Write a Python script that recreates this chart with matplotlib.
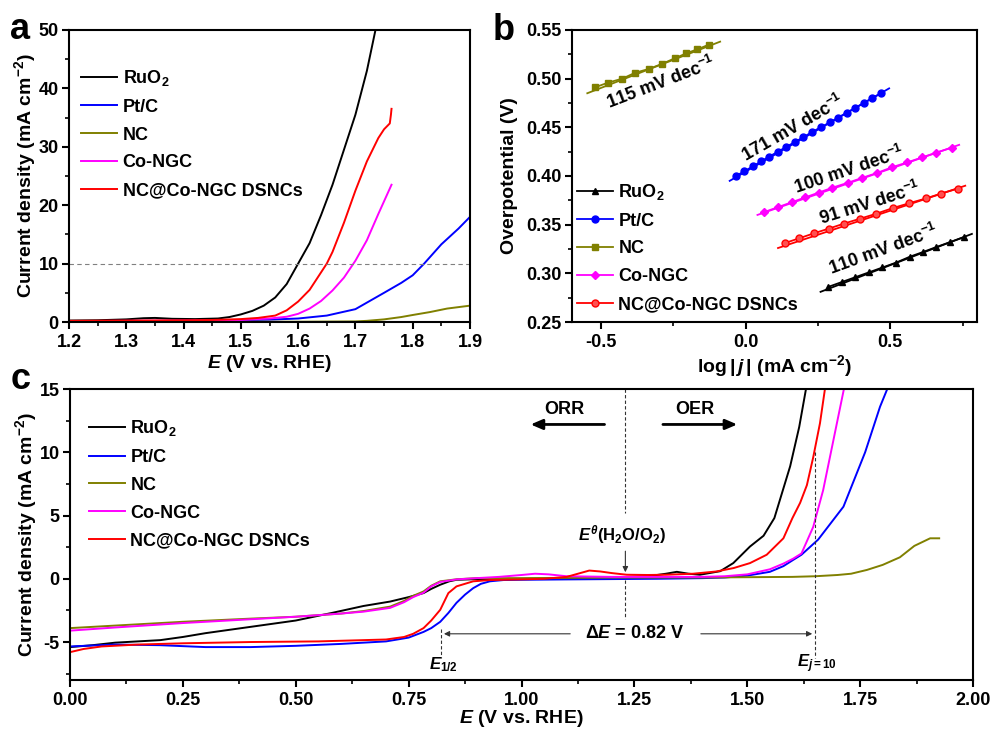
import matplotlib
matplotlib.use('Agg')
import matplotlib.pyplot as plt
from matplotlib.ticker import MultipleLocator

plt.rcParams.update({
    'font.family': ['Liberation Sans', 'DejaVu Sans'],
    'font.weight': 'bold',
    'axes.labelweight': 'bold',
    'mathtext.fontset': 'custom',
    'mathtext.rm': 'Liberation Sans:bold',
    'mathtext.it': 'Liberation Sans:italic:bold',
    'mathtext.bf': 'Liberation Sans:bold',
    'mathtext.sf': 'Liberation Sans:bold',
    'axes.unicode_minus': False,
    'axes.linewidth': 1.5,
    'xtick.major.width': 1.5, 'ytick.major.width': 1.5,
    'xtick.minor.width': 1.2, 'ytick.minor.width': 1.2,
    'xtick.major.size': 5, 'ytick.major.size': 5,
    'xtick.minor.size': 3, 'ytick.minor.size': 3,
    'xtick.labelsize': 13, 'ytick.labelsize': 13,
    'axes.labelsize': 14,
})

# ---------------- data: panel a (OER LSV) ----------------
labels = ['RuO$_2$', 'Pt/C', 'NC', 'Co-NGC', 'NC@Co-NGC DSNCs']
colors = ['black', '#0000FF', '#808000', '#FF00FF', '#FF0000']

a_ru_E = [1.20, 1.25, 1.30, 1.33, 1.35, 1.38, 1.42, 1.46, 1.48, 1.50, 1.52, 1.54, 1.56, 1.58, 1.60,
          1.62, 1.64, 1.66, 1.68, 1.70, 1.72, 1.735]
a_ru_j = [0.25, 0.3, 0.45, 0.65, 0.7, 0.55, 0.5, 0.6, 0.85, 1.3, 1.9, 2.8, 4.2, 6.5, 10,
          13.5, 18.3, 23.5, 29.5, 35.5, 43, 50]
a_pt_E = [1.2, 1.3, 1.4, 1.5, 1.55, 1.6, 1.65, 1.7, 1.75, 1.78, 1.8, 1.82, 1.85, 1.88, 1.9]
a_pt_j = [0.1, 0.15, 0.2, 0.3, 0.4, 0.6, 1.1, 2.2, 5.0, 6.7, 8.0, 10, 13.3, 16, 18]
a_nc_E = [1.2, 1.4, 1.6, 1.7, 1.72, 1.75, 1.78, 1.8, 1.83, 1.86, 1.9]
a_nc_j = [0.05, 0.05, 0.05, 0.1, 0.2, 0.45, 0.85, 1.2, 1.7, 2.3, 2.8]
a_co_E = [1.2, 1.3, 1.4, 1.5, 1.55, 1.58, 1.60, 1.62, 1.64, 1.66, 1.68, 1.70, 1.72, 1.74, 1.763]
a_co_j = [0.15, 0.2, 0.25, 0.35, 0.6, 0.9, 1.4, 2.3, 3.6, 5.4, 7.6, 10.5, 14, 18.5, 23.5]
a_ds_E = [1.20, 1.30, 1.40, 1.45, 1.50, 1.53, 1.56, 1.58, 1.60, 1.62, 1.64, 1.65, 1.66, 1.68, 1.70,
          1.72, 1.74, 1.75, 1.76, 1.762, 1.763]
a_ds_j = [0.2, 0.25, 0.3, 0.35, 0.5, 0.7, 1.1, 2.0, 3.5, 5.5, 8.5, 10, 12, 17, 22.5,
          27.5, 31.5, 33, 34, 35.5, 36.5]

# ---------------- data: panel b (Tafel) ----------------
b_ru_x = [0.285, 0.332, 0.379, 0.426, 0.473, 0.520, 0.567, 0.614, 0.659, 0.706, 0.753]
b_ru_y = [0.286, 0.291, 0.296, 0.301, 0.306, 0.311, 0.317, 0.322, 0.327, 0.332, 0.337]
b_pt_x = [-0.033, -0.004, 0.026, 0.053, 0.082, 0.112, 0.141, 0.171, 0.200, 0.229, 0.259, 0.291,
          0.320, 0.349, 0.379, 0.408, 0.438, 0.468]
b_pt_y = [0.400, 0.405, 0.410, 0.415, 0.420, 0.425, 0.430, 0.435, 0.440, 0.445, 0.450, 0.455,
          0.460, 0.465, 0.470, 0.475, 0.480, 0.485]
b_nc_x = [-0.521, -0.474, -0.426, -0.382, -0.334, -0.290, -0.244, -0.205, -0.168, -0.126]
b_nc_y = [0.491, 0.496, 0.500, 0.506, 0.510, 0.515, 0.521, 0.526, 0.530, 0.535]
b_co_x = [0.065, 0.112, 0.159, 0.206, 0.253, 0.300, 0.353, 0.402, 0.453, 0.506, 0.559, 0.609,
          0.659, 0.712]
b_co_y = [0.363, 0.368, 0.373, 0.378, 0.383, 0.388, 0.393, 0.398, 0.403, 0.409, 0.414, 0.419,
          0.424, 0.429]
b_ds_x = [0.135, 0.185, 0.235, 0.288, 0.339, 0.394, 0.449, 0.508, 0.565, 0.624, 0.676, 0.733]
b_ds_y = [0.331, 0.336, 0.341, 0.346, 0.351, 0.356, 0.361, 0.367, 0.372, 0.377, 0.382, 0.387]
# fitted line end points
b_fit_ru = ([0.259, 0.782], [0.281, 0.3405])
b_fit_pt = ([-0.055, 0.496], [0.395, 0.490])
b_fit_nc = ([-0.547, -0.088], [0.485, 0.538])
b_fit_co = ([0.041, 0.738], [0.360, 0.432])
b_fit_ds = ([0.112, 0.759], [0.326, 0.390])
b_slopes = ['110', '171', '115', '100', '91']
b_text_pos = [(0.476, 0.3238, 20), (0.165, 0.4492, 30), (-0.294, 0.4953, 21),
              (0.359, 0.4065, 18.5), (0.429, 0.3717, 17.5)]

# ---------------- data: panel c (ORR + OER) ----------------
c_ru_E = [0.00, 0.05, 0.10, 0.20, 0.25, 0.30, 0.40, 0.50, 0.58, 0.65, 0.709, 0.75, 0.783, 0.80,
          0.82, 0.84, 0.856, 0.90, 1.00, 1.10, 1.20, 1.28, 1.32, 1.344, 1.37, 1.395, 1.44, 1.469,
          1.506, 1.536, 1.56, 1.595, 1.615, 1.63]
c_ru_j = [-5.4, -5.25, -5.05, -4.85, -4.6, -4.3, -3.8, -3.3, -2.7, -2.15, -1.8, -1.45, -1.13, -0.8,
          -0.47, -0.2, -0.08, -0.03, 0.0, 0.05, 0.1, 0.2, 0.4, 0.55, 0.4, 0.32, 0.6, 1.24,
          2.55, 3.4, 4.8, 8.9, 12, 15]
c_pt_E = [0.00, 0.10, 0.20, 0.30, 0.40, 0.50, 0.60, 0.70, 0.75, 0.783, 0.80, 0.82, 0.838, 0.856,
          0.875, 0.893, 0.91, 0.93, 0.96, 1.00, 1.10, 1.30, 1.40, 1.45, 1.50, 1.55, 1.58, 1.602,
          1.62, 1.657, 1.713, 1.761, 1.794, 1.81]
c_pt_j = [-5.35, -5.2, -5.25, -5.4, -5.4, -5.3, -5.15, -4.95, -4.65, -4.2, -3.9, -3.4, -2.7, -1.9,
          -1.25, -0.74, -0.4, -0.2, -0.1, -0.08, -0.05, 0.0, 0.05, 0.1, 0.25, 0.55, 1.0, 1.5,
          1.9, 3.1, 5.7, 10, 13.6, 15]
c_nc_E = [0.00, 0.10, 0.25, 0.40, 0.50, 0.60, 0.65, 0.709, 0.74, 0.76, 0.783, 0.80, 0.82, 0.856,
          0.90, 1.00, 1.20, 1.40, 1.60, 1.65, 1.70, 1.73, 1.765, 1.80, 1.838, 1.87, 1.905, 1.925]
c_nc_j = [-3.9, -3.7, -3.4, -3.15, -3.0, -2.75, -2.55, -2.2, -1.75, -1.35, -1.0, -0.55, -0.2, -0.04,
          0.05, 0.05, 0.1, 0.1, 0.15, 0.2, 0.3, 0.4, 0.7, 1.1, 1.7, 2.6, 3.2, 3.2]
c_co_E = [0.00, 0.10, 0.25, 0.40, 0.50, 0.60, 0.65, 0.709, 0.74, 0.76, 0.783, 0.80, 0.82, 0.856,
          0.90, 0.95, 1.00, 1.03, 1.06, 1.10, 1.20, 1.30, 1.40, 1.45, 1.50, 1.55, 1.58, 1.602,
          1.62, 1.646, 1.668, 1.691, 1.714]
c_co_j = [-4.1, -3.85, -3.5, -3.2, -3.0, -2.75, -2.6, -2.3, -1.85, -1.45, -1.1, -0.6, -0.25, -0.05,
          0.05, 0.15, 0.3, 0.4, 0.35, 0.2, 0.15, 0.15, 0.15, 0.2, 0.35, 0.75, 1.2, 1.6,
          2.0, 4.1, 7.0, 11, 15]
c_ds_E = [0.00, 0.03, 0.07, 0.15, 0.25, 0.40, 0.55, 0.65, 0.70, 0.74, 0.76, 0.783, 0.80, 0.82,
          0.838, 0.856, 0.893, 0.93, 1.00, 1.05, 1.10, 1.13, 1.15, 1.174, 1.20, 1.233, 1.28, 1.32,
          1.38, 1.432, 1.47, 1.506, 1.543, 1.58, 1.60, 1.617, 1.632, 1.646, 1.661, 1.672]
c_ds_j = [-5.8, -5.55, -5.35, -5.2, -5.1, -5.0, -4.95, -4.85, -4.8, -4.6, -4.35, -3.9, -3.3, -2.45,
          -1.13, -0.6, -0.2, -0.1, -0.05, 0.0, 0.15, 0.45, 0.65, 0.58, 0.45, 0.32, 0.3, 0.32,
          0.4, 0.58, 0.85, 1.24, 1.9, 3.2, 4.8, 6.0, 7.4, 9.6, 12.3, 15]

E_half = 0.822
E_j10 = 1.65
E_theta = 1.23

# ---------------- figure ----------------
fig = plt.figure(figsize=(9.93, 7.31), dpi=100)
axa = fig.add_axes([0.0695, 0.5595, 0.4038, 0.3995])
axb = fig.add_axes([0.576, 0.5595, 0.408, 0.3995])
axc = fig.add_axes([0.0705, 0.0698, 0.9094, 0.398])

for ax in (axa, axb, axc):
    ax.tick_params(which='both', direction='out', top=False, right=False)
    ax.tick_params(axis='y', which='major', pad=2.5)

leg_kw = dict(loc='upper left', frameon=False, fontsize=13, handlelength=2.0,
              handletextpad=0.3, labelspacing=0.6, borderaxespad=0, borderpad=0)

# panel a
a_sets = [(a_ru_E, a_ru_j), (a_pt_E, a_pt_j), (a_nc_E, a_nc_j), (a_co_E, a_co_j), (a_ds_E, a_ds_j)]
for (E, j), c, lab in zip(a_sets, colors, labels):
    axa.plot(E, j, color=c, lw=1.4, label=lab)
axa.axhline(10, color='gray', ls='--', lw=0.8, dashes=(4, 3))
axa.set_xlim(1.2, 1.9)
axa.set_ylim(0, 50)
axa.xaxis.set_minor_locator(MultipleLocator(0.05))
axa.yaxis.set_major_locator(MultipleLocator(10))
axa.yaxis.set_minor_locator(MultipleLocator(5))
axa.set_xticks([1.2, 1.3, 1.4, 1.5, 1.6, 1.7, 1.8, 1.9])
axa.set_xticklabels(['1.2', '1.3', '1.4', '1.5', '1.6', '1.7', '1.8', '1.9'])
axa.set_xlabel('$E$ (V vs. RHE)')
axa.set_ylabel('Current density (mA cm$^{-2}$)')
axa.xaxis.set_label_coords(0.5, -0.105)
axa.yaxis.set_label_coords(-0.078, 0.5)
axa.legend(bbox_to_anchor=(0.03, 0.87), **leg_kw)

# panel b
b_sets = [(b_ru_x, b_ru_y, '^', b_fit_ru), (b_pt_x, b_pt_y, 'o', b_fit_pt),
          (b_nc_x, b_nc_y, 's', b_fit_nc), (b_co_x, b_co_y, 'D', b_fit_co),
          (b_ds_x, b_ds_y, 'o', b_fit_ds)]
for (x, y, m, fit), c, lab in zip(b_sets, colors, labels):
    axb.plot(fit[0], fit[1], color=c, lw=1.3)
    ms = 5 if m != 'D' else 4.5
    fc = c if c != '#FF0000' else '#FF5050'
    axb.plot(x, y, color=c, lw=1.3, marker=m, ms=ms, mfc=fc, mec=c, label=lab)
for s, (tx, ty, rot) in zip(b_slopes, b_text_pos):
    axb.text(tx, ty, s + ' mV dec$^{-1}$', rotation=rot, ha='center', va='center',
             rotation_mode='anchor', fontsize=13)
axb.set_xlim(-0.6, 0.8)
axb.set_ylim(0.25, 0.55)
axb.xaxis.set_minor_locator(MultipleLocator(0.25))
axb.yaxis.set_minor_locator(MultipleLocator(0.025))
axb.set_xticks([-0.5, 0.0, 0.5])
axb.set_xticklabels(['-0.5', '0.0', '0.5'])
axb.set_yticks([0.25, 0.30, 0.35, 0.40, 0.45, 0.50, 0.55])
axb.set_yticklabels(['0.25', '0.30', '0.35', '0.40', '0.45', '0.50', '0.55'])
axb.set_xlabel(r'log$\,|\,j\,|$ (mA cm$^{-2}$)')
axb.set_ylabel('Overpotential (V)')
axb.xaxis.set_label_coords(0.5, -0.105)
axb.yaxis.set_label_coords(-0.132, 0.5)
axb.legend(bbox_to_anchor=(0.012, 0.48), **leg_kw)

# panel c
c_sets = [(c_ru_E, c_ru_j), (c_pt_E, c_pt_j), (c_nc_E, c_nc_j), (c_co_E, c_co_j), (c_ds_E, c_ds_j)]
for (E, j), c, lab in zip(c_sets, colors, labels):
    axc.plot(E, j, color=c, lw=1.4, label=lab)
axc.set_xlim(0, 2.0)
axc.set_ylim(-8, 15)
axc.xaxis.set_major_locator(MultipleLocator(0.25))
axc.xaxis.set_minor_locator(MultipleLocator(0.125))
axc.yaxis.set_minor_locator(MultipleLocator(2.5))
axc.set_yticks([-5, 0, 5, 10, 15])
axc.set_xlabel('$E$ (V vs. RHE)')
axc.set_ylabel('Current density (mA cm$^{-2}$)')
axc.xaxis.set_label_coords(0.5, -0.098)
axc.yaxis.set_label_coords(-0.034, 0.5)
axc.legend(bbox_to_anchor=(0.021, 0.9), **leg_kw)

dk = '#333333'
axc.plot([E_theta, E_theta], [15, 5.2], ls='--', color=dk, lw=0.8, dashes=(3, 2))
axc.plot([E_theta, E_theta], [-0.1, -3.2], ls='--', color=dk, lw=0.8, dashes=(3, 2))
axc.annotate('', xy=(E_theta, 0.3), xytext=(E_theta, 2.4),
             arrowprops=dict(arrowstyle='-|>', color=dk, lw=0.8, mutation_scale=8))
axc.text(E_theta - 0.008, 3.5, r'$E^{\theta}$(H$_2$O/O$_2$)', ha='center', va='center', fontsize=12)
axc.plot([E_half, E_half], [-4.0, -6.3], ls='--', color=dk, lw=0.8, dashes=(3, 2))
axc.plot([E_j10, E_j10], [10, -6.3], ls='--', color=dk, lw=0.8, dashes=(3, 2))
axc.annotate('', xy=(E_half, -4.35), xytext=(1.114, -4.35),
             arrowprops=dict(arrowstyle='-|>', color=dk, lw=0.8, mutation_scale=8))
axc.annotate('', xy=(E_j10, -4.35), xytext=(1.391, -4.35),
             arrowprops=dict(arrowstyle='-|>', color=dk, lw=0.8, mutation_scale=8))
axc.text(1.25, -4.35, r'$\Delta E$ = 0.82 V', ha='center', va='center', fontsize=13)
axc.text(E_half + 0.005, -6.75, r'$E_{1/2}$', ha='center', va='center', fontsize=12)
axc.text(E_j10 + 0.005, -6.75, r'$E_{j=10}$', ha='center', va='center', fontsize=12)
axc.text(1.096, 13.4, 'ORR', ha='center', va='center', fontsize=13)
axc.text(1.384, 13.4, 'OER', ha='center', va='center', fontsize=13)
axc.annotate('', xy=(1.014, 12.2), xytext=(1.19, 12.2),
             arrowprops=dict(arrowstyle='-|>,head_width=0.3,head_length=0.7', color='black', lw=2))
axc.annotate('', xy=(1.484, 12.2), xytext=(1.307, 12.2),
             arrowprops=dict(arrowstyle='-|>,head_width=0.3,head_length=0.7', color='black', lw=2))

# panel letters
fig.text(10 / 993, 1 - 39 / 731, 'a', fontsize=26, fontweight='bold', va='baseline')
fig.text(493 / 993, 1 - 40 / 731, 'b', fontsize=26, fontweight='bold', va='baseline')
fig.text(11 / 993, 1 - 389 / 731, 'c', fontsize=26, fontweight='bold', va='baseline')

fig.savefig('out.png', dpi=100)
